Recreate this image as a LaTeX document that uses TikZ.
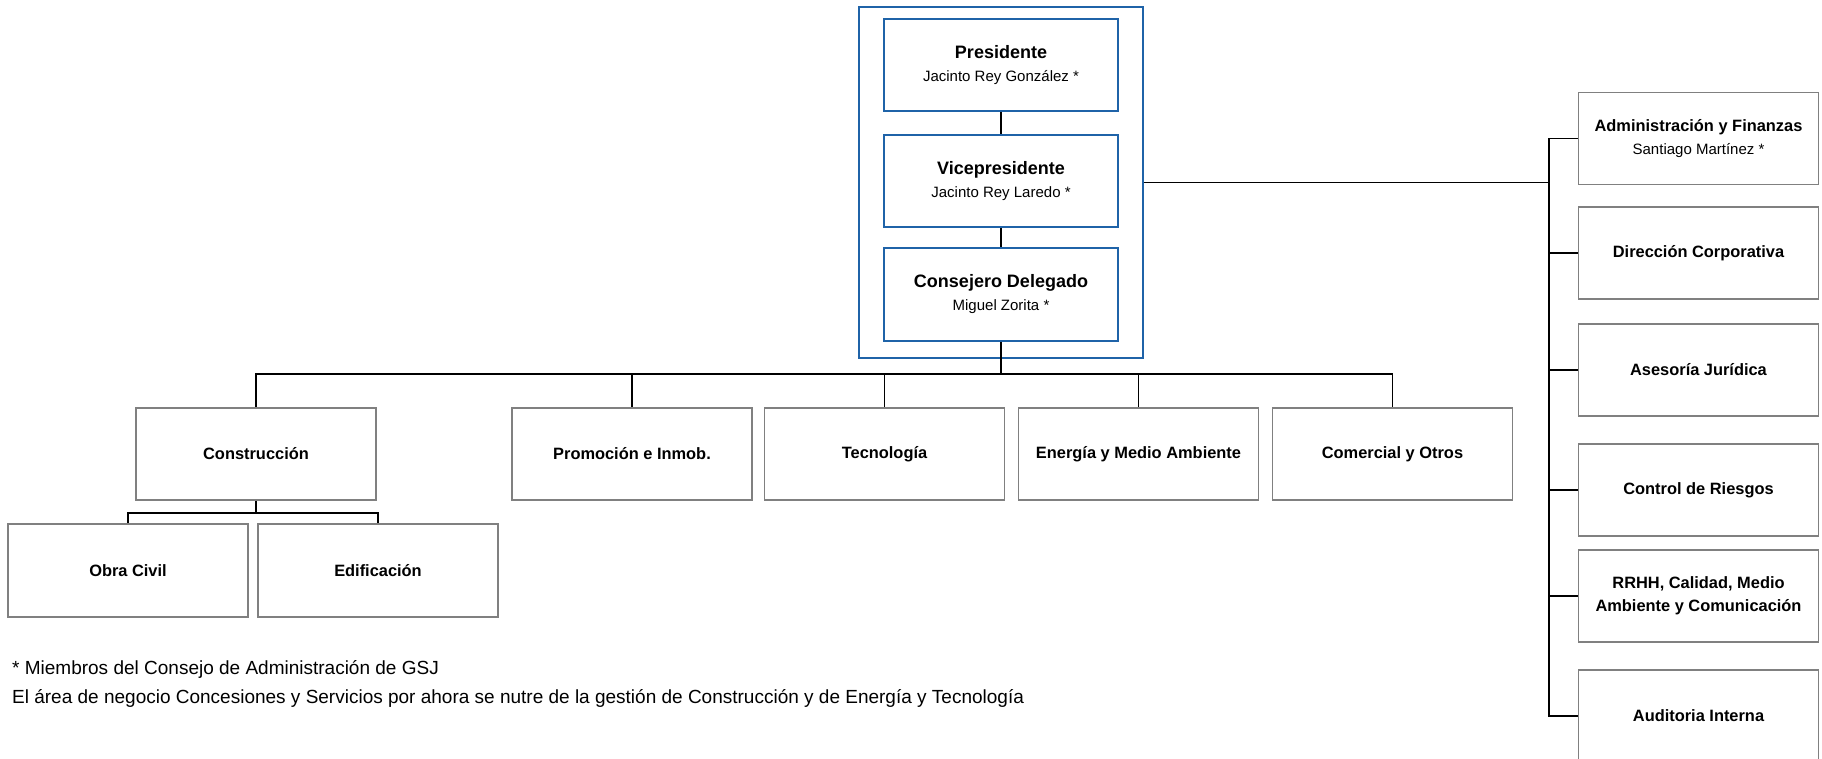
\documentclass[tikz,border=0pt]{standalone}
\usepackage{fontspec}
\setmainfont{Liberation Sans}
\usepackage{tikz}
\usetikzlibrary{positioning}
\definecolor{azulgsj}{RGB}{31,99,168}
\definecolor{grisgsj}{RGB}{128,128,128}
\tikzset{%
    % Cajas de la alta direccion
    cargo/.style  = {draw=azulgsj, line width=1.6pt, rectangle,
    minimum width=234pt, minimum height=92pt, align=center,
    font=\fontsize{15}{23}\selectfont},
    marco/.style  = {draw=azulgsj, line width=1.6pt, rectangle,
    minimum width=284pt, minimum height=351pt},
    % Cajas de las areas
    area/.style   = {draw=grisgsj, line width=1.6pt, rectangle,
    minimum width=240pt, minimum height=92pt, align=center,
    font=\fontsize{16.4}{22.7}\selectfont\bfseries},
    % Lineas
    enlace/.style = {draw=black, line width=1.1pt},
    tronco/.style = {draw=black, line width=2pt},
    % Notas al pie
    nota/.style   = {anchor=base west, inner sep=0pt,
    font=\fontsize{19}{22}\selectfont}
}
\newcommand{\titulo}[1]{{\fontsize{18}{23}\selectfont\bfseries #1}}
\newcommand{\persona}[1]{{\fontsize{15}{22.7}\selectfont\mdseries #1}}

\begin{document}
\begin{tikzpicture}[x=1pt, y=-1pt]
	\useasboundingbox (0,0) rectangle (1822,759);
	% alta direccion
	\node[marco] (marco) at (1001,182.5) {};
	\node[cargo] (pres) at (1001,65) {\titulo{Presidente}\\Jacinto Rey González *};
	\node[cargo] (vp) at (1001,181) {\titulo{Vicepresidente}\\Jacinto Rey Laredo *};
	\node[cargo, minimum height=93pt] (cd) at (1001,294.5) {\titulo{Consejero Delegado}\\Miguel Zorita *};
	\draw[enlace] (pres) -- (vp);
	\draw[enlace] (vp) -- (cd);

	% areas de negocio
	\node[area] (cons) at (256,454) {Construcción};
	\node[area] (prom) at (632,454) {Promoción e Inmob.};
	\node[area] (tec)  at (884.5,454) {Tecnología};
	\node[area] (ener) at (1138.5,454) {Energía y Medio Ambiente};
	\node[area] (com)  at (1392.5,454) {Comercial y Otros};
	\node[area, minimum height=93pt] (obra) at (128,570.5) {Obra Civil};
	\node[area, minimum height=93pt] (edif) at (378,570.5) {Edificación};

	\coordinate (bus) at (1001,374);
	\coordinate (subbus) at (256,513);
	\draw[tronco] (cd.south) -- (bus);
	\foreach \n in {cons,prom,tec,ener,com}
		\draw[enlace] (bus) -| (\n.north);
	\draw[tronco] (cons.south) -- (subbus);
	\foreach \n in {obra,edif}
		\draw[enlace] (subbus) -| (\n.north);

	% areas corporativas
	\node[area] (admin) at (1698.5,138.5) {Administración y Finanzas\\\persona{Santiago Martínez *}};
	\node[area] (dirc) at (1698.5,253) {Dirección Corporativa};
	\node[area] (ases) at (1698.5,370) {Asesoría Jurídica};
	\node[area] (ctrl) at (1698.5,490) {Control de Riesgos};
	\node[area] (rrhh) at (1698.5,596) {RRHH, Calidad, Medio\\Ambiente y Comunicación};
	\node[area] (audi) at (1698.5,716) {Auditoria Interna};

	\coordinate (rbus) at (1549,182.5);
	\draw[enlace] (marco.east) -- (rbus);
	\foreach \n in {admin,dirc,ases,ctrl,rrhh,audi}
		\draw[enlace] (rbus) |- (\n.west);

	% notas
	\node[nota] (nota1) at (12,674) {* Miembros del Consejo de Administración de GSJ};
	\node[nota] (nota2) at (12,703) {El área de negocio Concesiones y Servicios por ahora se nutre de la gestión de Construcción y de Energía y Tecnología};
\end{tikzpicture}
\end{document}
